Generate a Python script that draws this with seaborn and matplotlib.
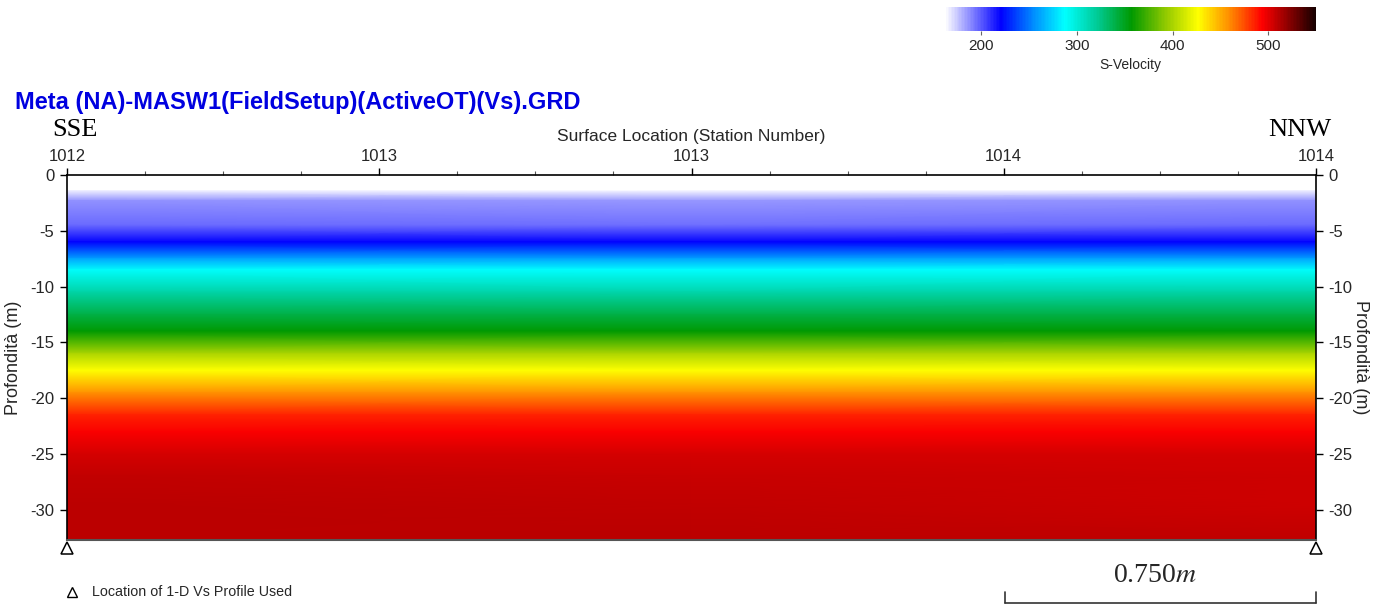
import numpy as np
import matplotlib
matplotlib.use("Agg")
import matplotlib.pyplot as plt
from matplotlib.colors import LinearSegmentedColormap, Normalize
from matplotlib.lines import Line2D
import seaborn as sns

sns.set_theme(style="white")
plt.rcParams["font.family"] = ["Liberation Sans", "DejaVu Sans"]
plt.rcParams["axes.unicode_minus"] = False
plt.rcParams["mathtext.fontset"] = "stix"

# ---- data -------------------------------------------------------------
stations = [1012.0, 1013.0, 1014.0]           # 1-D Vs profile locations
depths = [-1.4, -2.3, -4.5, -6.0, -7.5, -8.5, -10.5, -12.5, -14.0,
          -16.0, -17.5, -19.5, -21.5, -23.0, -25.0, -27.0, -29.5, -32.7]
vs_1012 = [166, 187, 196, 221, 262, 288, 316, 340, 357,
           400, 427, 458, 485, 495, 504, 509, 510, 510]
vs_1013 = [164, 185, 195, 220, 262, 287, 315, 340, 357,
           400, 427, 458, 485, 495, 504, 507, 508, 510]
vs_1014 = [166, 187, 196, 221, 262, 288, 316, 340, 357,
           400, 427, 458, 485, 495, 504, 506, 506, 509]
x_ticks = [1012.0, 1012.5, 1013.0, 1013.5, 1014.0]
x_tick_labels = ["1012", "1013", "1013", "1014", "1014"]
y_ticks = [0, -5, -10, -15, -20, -25, -30]
cbar_ticks = [200, 300, 400, 500]
vmin, vmax = 162, 550

# ---- colour scale ------------------------------------------------------
nodes = [(162, "#ffffff"), (190, "#8080ff"), (220, "#0000ff"),
         (255, "#0090ff"), (287, "#00ffff"), (320, "#00cc99"),
         (357, "#009900"), (395, "#99cc00"), (427, "#ffff00"),
         (460, "#ff8c00"), (494, "#ff0000"), (522, "#8b0000"),
         (550, "#150000")]
cmap = LinearSegmentedColormap.from_list(
    "svel", [((v - vmin) / (vmax - vmin), c) for v, c in nodes])
norm = Normalize(vmin, vmax)

# ---- figure ------------------------------------------------------------
fig = plt.figure(figsize=(13.96, 6.10), dpi=100)
ax = fig.add_axes([67 / 1396, 1 - 540 / 610, (1316 - 67) / 1396, 365 / 610])

grid = np.array([vs_1012, vs_1013, vs_1014]).T
X, Y = np.meshgrid(stations, depths)
ax.pcolormesh(X, Y, grid, cmap=cmap, norm=norm, shading="gouraud")

ax.set_xlim(1012, 1014)
ax.set_ylim(-32.7, 0)

ax.xaxis.tick_top()
ax.set_xticks(x_ticks)
ax.set_xticklabels(x_tick_labels)
ax.set_xticks(np.arange(1012, 1014.001, 0.125), minor=True)
ax.set_yticks(y_ticks)
ax.set_yticklabels([str(t) for t in y_ticks])
ax.tick_params(axis="both", which="major", direction="out", length=5,
               width=1, color="black", labelsize=12, pad=4,
               left=True, right=True, labelleft=True, labelright=True,
               top=True, bottom=False, labeltop=True, labelbottom=False)
ax.tick_params(axis="x", which="minor", direction="out", length=3,
               width=0.8, color="#555555", top=True, bottom=False)
ax.tick_params(axis="x", which="major", pad=3)
for s in ["top", "left", "right"]:
    ax.spines[s].set_color("black")
    ax.spines[s].set_linewidth(1.2)
ax.spines["bottom"].set_color("#555555")
ax.spines["bottom"].set_linewidth(1.5)
ax.grid(False)

ax.set_ylabel("Profondità (m)", fontsize=13, labelpad=6)
rax = ax.secondary_yaxis("right")
rax.set_yticks([])
rax.spines["right"].set_visible(False)
rax.set_ylabel("Profondità (m)", fontsize=13, rotation=270, labelpad=38)

# profile markers
ax.plot(stations[::2], [-33.4, -33.4], linestyle="none", marker="^",
        markersize=8, markerfacecolor="white", markeredgecolor="black",
        markeredgewidth=1.1, clip_on=False, zorder=5)

# ---- colour bar ---------------------------------------------------------
cax = fig.add_axes([945 / 1396, 1 - 31 / 610, 371 / 1396, 24 / 610])
sm = plt.cm.ScalarMappable(norm=norm, cmap=cmap)
cb = fig.colorbar(sm, cax=cax, orientation="horizontal")
cb.outline.set_visible(False)
cb.set_ticks(cbar_ticks)
cb.ax.tick_params(labelsize=11, length=3, width=0.8, color="#666666", pad=3)
cb.set_label("S-Velocity", fontsize=10, labelpad=3)

# ---- annotations -------------------------------------------------------
fig.text(15 / 1396, 1 - 103 / 610,
         "Meta (NA)-MASW1(FieldSetup)(ActiveOT)(Vs).GRD",
         fontsize=17, fontweight="bold", color="#0000e0", va="center")
fig.text(52 / 1396, 1 - 130 / 610, "SSE", family="Liberation Serif",
         fontsize=19, va="center", ha="left", color="black")
fig.text(1331 / 1396, 1 - 130 / 610, "NNW", family="Liberation Serif",
         fontsize=19, va="center", ha="right", color="black")
fig.text(691 / 1396, 1 - 137 / 610, "Surface Location (Station Number)",
         fontsize=12.5, ha="center", va="center")

# legend entry
fig.add_artist(Line2D([72 / 1396], [1 - 592 / 610], marker="^",
                      markersize=7.5, markerfacecolor="white",
                      markeredgecolor="black", markeredgewidth=1.0,
                      linestyle="none"))
fig.text(92 / 1396, 1 - 592 / 610, "Location of 1-D Vs Profile Used",
         fontsize=10.3, va="center", ha="left")

# scale bar
fig.text(1155 / 1396, 1 - 576 / 610, r"0.750$\mathit{m}$",
         family="Liberation Serif", fontsize=20, ha="center", va="center")
yb, yt = 1 - 603 / 610, 1 - 592 / 610
x0, x1 = 1005 / 1396, 1316 / 1396
fig.add_artist(Line2D([x0, x1], [yb, yb], color="#333333", lw=1.2))
fig.add_artist(Line2D([x0, x0], [yb, yt], color="#333333", lw=1.2))
fig.add_artist(Line2D([x1, x1], [yb, yt], color="#333333", lw=1.2))

fig.savefig("out.png", dpi=100, facecolor="white")
